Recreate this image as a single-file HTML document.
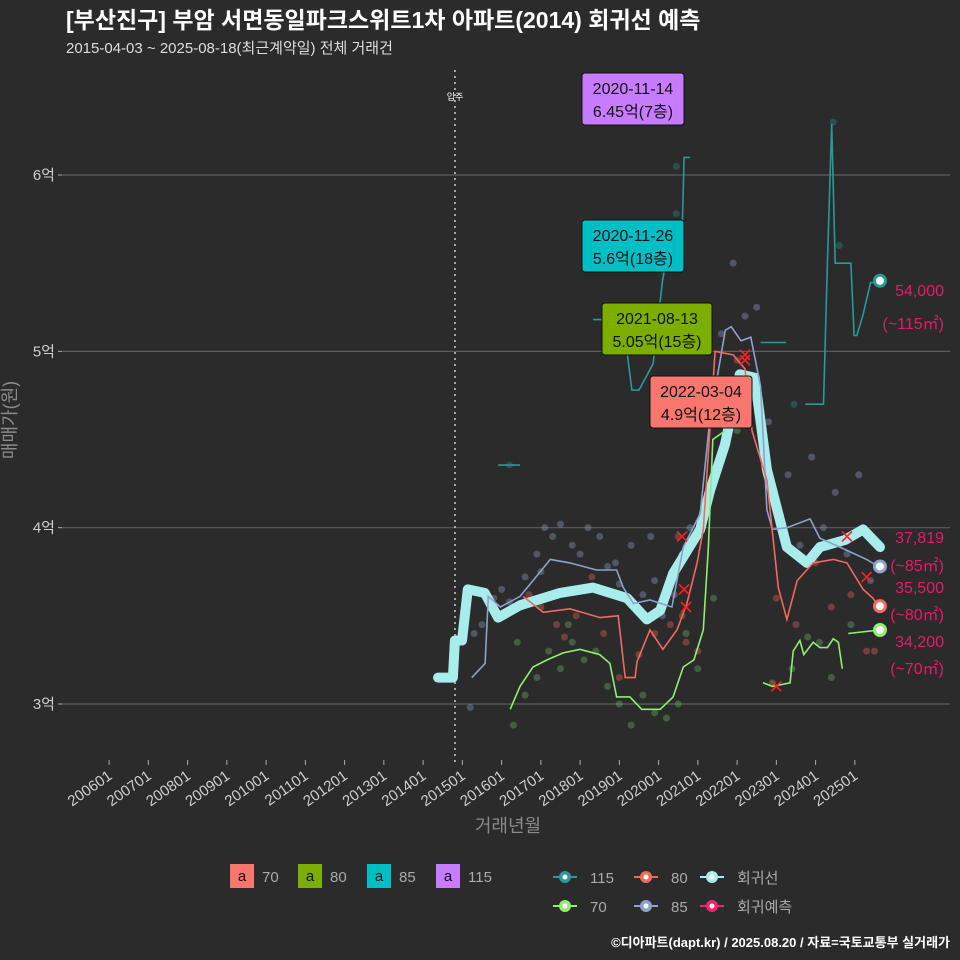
<!DOCTYPE html>
<html><head><meta charset="utf-8"><style>
body{margin:0;background:#2b2b2b;}
svg{display:block;font-family:"Liberation Sans","Noto Sans CJK KR",sans-serif;}
</style></head><body>
<svg id="c" width="960" height="960" xmlns="http://www.w3.org/2000/svg">
<rect width="960" height="960" fill="#2b2b2b"/>
<text x="66" y="28" fill="#ffffff" font-size="23" font-weight="bold">[부산진구] 부암 서면동일파크스위트1차 아파트(2014) 회귀선 예측</text>
<text x="66" y="53" fill="#dddddd" font-size="15">2015-04-03 ~ 2025-08-18(최근계약일) 전체 거래건</text>
<g id="grid"></g><g id="axes"></g><g id="plot"></g><g id="ann"></g><g id="legend"></g>
<text x="16" y="420" fill="#8a8a8a" font-size="18" transform="rotate(-90 16 420)" text-anchor="middle">매매가(원)</text>
<text x="508" y="832" fill="#8a8a8a" font-size="18" text-anchor="middle">거래년월</text>
<text x="950" y="947" fill="#ffffff" font-size="13" font-weight="bold" text-anchor="end">©디아파트(dapt.kr) / 2025.08.20 / 자료=국토교통부 실거래가</text>
</svg>
<script>
const yTicks=[3,4,5,6];
const yTickLabels=["3억","4억","5억","6억"];
const xTickYears=[2006,2007,2008,2009,2010,2011,2012,2013,2014,2015,2016,2017,2018,2019,2020,2021,2022,2023,2024,2025];
const xTickLabels=["200601","200701","200801","200901","201001","201101","201201","201301","201401","201501","201601","201701","201801","201901","202001","202101","202201","202301","202401","202501"];
const regDates=[2014.38,2014.76,2014.81,2014.99,2015.14,2015.57,2015.91,2016.47,2017.49,2018.33,2019.2,2019.7,2020.04,2020.37,2021.06,2021.31,2021.69,2022.07,2022.45,2022.76,2023.27,2023.78,2024.11,2024.75,2025.21,2025.64];
const regVals=[3.15,3.15,3.36,3.36,3.65,3.63,3.49,3.56,3.63,3.66,3.60,3.48,3.53,3.74,3.99,4.21,4.47,4.87,4.85,4.33,3.89,3.80,3.89,3.93,3.99,3.89];
const s80Dates=[2016.55,2017.06,2017.74,2018.51,2018.97,2019.15,2019.4,2019.45,2019.78,2020.11,2020.47,2020.72,2020.98,2021.14,2021.44,2021.9,2022.2,2022.38,2022.76,2023.05,2023.27,2023.53,2023.94,2024.45,2024.8,2025.21,2025.46,2025.6];
const s80Vals=[3.61,3.52,3.54,3.49,3.50,3.15,3.15,3.24,3.42,3.31,3.42,3.57,3.80,3.99,5.0,4.98,4.9,4.55,4.27,3.66,3.48,3.70,3.80,3.82,3.80,3.65,3.60,3.555];
const s85Dates=[2015.24,2015.58,2015.66,2015.97,2016.47,2016.8,2017.24,2017.74,2018.42,2018.93,2019.1,2019.36,2019.78,2020.34,2020.63,2021.06,2021.3,2021.7,2021.85,2022.1,2022.35,2022.6,2022.76,2022.9,2023.27,2023.86,2024.11,2024.62,2025.3,2025.6];
const s85Vals=[3.15,3.23,3.61,3.55,3.61,3.70,3.82,3.80,3.76,3.76,3.66,3.57,3.59,3.55,3.89,4.08,4.6,5.12,5.14,5.06,5.08,4.8,4.10,3.99,4.0,4.05,3.94,3.89,3.82,3.78];
const s70aDates=[2016.22,2016.47,2016.8,2017.16,2017.57,2018.0,2018.5,2018.76,2018.93,2019.27,2019.57,2020.04,2020.37,2020.63,2020.9,2021.14,2021.27,2021.38,2021.7];
const s70aVals=[2.97,3.10,3.21,3.25,3.29,3.31,3.28,3.23,3.04,3.04,2.97,2.97,3.04,3.21,3.25,3.42,3.89,4.5,4.55];
const s70bDates=[2022.66,2022.9,2023.35,2023.43,2023.6,2023.7,2023.94,2024.11,2024.3,2024.45,2024.58,2024.68];
const s70bVals=[3.12,3.10,3.12,3.30,3.36,3.28,3.35,3.32,3.32,3.37,3.35,3.20];
const s70cDates=[2024.83,2025.64];
const s70cVals=[3.40,3.42];
const s115Segs=[
 {d:[2015.91,2016.47],v:[4.355,4.355]},
 {d:[2018.33,2018.8],v:[5.18,5.18]},
 {d:[2019.2,2019.32,2019.5,2019.86,2020.1,2020.32,2020.6,2020.65,2020.8],v:[4.99,4.78,4.78,4.93,5.4,5.67,5.67,6.10,6.10]},
 {d:[2022.6,2023.25],v:[5.05,5.05]},
 {d:[2023.74,2024.2,2024.3,2024.41,2024.5,2024.9,2024.98,2025.05,2025.2,2025.4,2025.64],v:[4.70,4.70,5.50,6.29,5.50,5.50,5.09,5.09,5.2,5.39,5.39]}
];
const dot85D=[2015.2,2015.5,2015.8,2016.2,2016.6,2016.9,2017.1,2017.3,2017.5,2017.8,2018.0,2018.2,2018.5,2018.7,2019.0,2019.3,2019.6,2019.9,2020.1,2020.4,2020.6,2020.8,2021.2,2021.6,2021.9,2022.2,2022.8,2023.0,2023.3,2023.6,2023.9,2024.2,2024.5,2024.8,2025.1,2025.4,2015.3,2016.0,2017.0,2018.9,2019.8,2022.5];
const dot85V=[2.98,3.45,3.6,3.58,3.72,3.85,4.0,3.95,4.02,3.9,3.85,4.0,3.95,3.78,3.68,3.9,3.62,3.7,3.5,3.62,3.85,4.0,4.6,5.1,5.5,5.2,4.6,4.1,4.3,3.9,4.4,4.0,4.2,3.85,4.3,3.7,3.4,3.65,3.75,3.8,3.95,5.25];
const dot80D=[2016.7,2017.0,2017.4,2017.9,2018.3,2018.6,2019.0,2019.5,2019.9,2020.3,2020.6,2020.7,2021.0,2021.5,2022.0,2022.5,2023.0,2023.5,2024.0,2024.4,2024.9,2025.3,2025.5,2017.6,2020.5];
const dot80V=[3.62,3.55,3.45,3.5,3.72,3.4,3.15,3.28,3.4,3.45,3.5,3.35,3.3,4.6,4.95,4.7,3.6,3.45,3.8,3.55,3.62,3.3,3.3,3.38,3.95];
const dot70D=[2016.3,2016.6,2016.9,2017.2,2017.5,2017.8,2018.1,2018.4,2018.7,2019.0,2019.3,2019.6,2019.9,2020.2,2020.5,2020.7,2021.0,2021.4,2022.0,2022.9,2023.4,2023.8,2024.1,2024.4,2024.9,2016.4,2017.7];
const dot70V=[2.88,3.05,3.15,3.3,3.2,3.35,3.25,3.3,3.1,3.0,2.88,3.05,2.95,2.92,3.0,3.4,3.2,3.6,4.55,3.12,3.2,3.38,3.35,3.15,3.45,3.35,3.45];
const dot115D=[2016.2,2020.45,2020.45,2020.45,2024.45,2024.6,2023.45,2020.1];
const dot115V=[4.355,6.45,6.05,5.78,6.3,5.6,4.7,5.0];
const xD=[2020.6,2020.65,2020.7,2022.2,2022.2,2023.0,2024.8,2025.3];
const xV=[3.95,3.65,3.55,4.95,4.98,3.1,3.95,3.72];

const NS="http://www.w3.org/2000/svg";
const X=d=>109.1+(d-2006)*39.25;
const Y=v=>704-(v-3)*176.33;
function mk(parent,tag,attrs){const e=document.createElementNS(NS,tag);for(const k in attrs)e.setAttribute(k,attrs[k]);document.getElementById(parent).appendChild(e);return e;}
function txt(parent,x,y,s,attrs){const e=mk(parent,'text',Object.assign({x:x,y:y},attrs));e.textContent=s;return e;}
function pts(ds,vs){return ds.map((d,i)=>X(d).toFixed(1)+','+Y(vs[i]).toFixed(1)).join(' ');}

yTicks.forEach((t,i)=>{
 let g=mk('grid','line',{x1:62,x2:950,y1:Y(t),y2:Y(t),stroke:'#5c5c5c','stroke-width':1.2});
 
 
 mk('axes','line',{x1:58,x2:62,y1:Y(t),y2:Y(t),stroke:'#aaa'});
 let l=txt('axes',55,Y(t)+5,yTickLabels[i],{fill:'#cfcfcf','font-size':15,'text-anchor':'end'});
 
 
});
xTickYears.forEach((t,i)=>{
 const x=X(t);
 mk('axes','line',{x1:x,x2:x,y1:760,y2:765,stroke:'#aaa'});
 let l=txt('axes',x+4,778,xTickLabels[i],{fill:'#cfcfcf','font-size':15,'text-anchor':'end',transform:'rotate(-35 '+(x+4)+' 778)'});
 
 
});
let vl=mk('plot','line',{x1:455,x2:455,y1:70,y2:762,stroke:'#cccccc','stroke-width':1.5,'stroke-dasharray':'2 4'});


txt('plot',455,100,'입주',{fill:'#fff','font-size':9,'text-anchor':'middle'});

function dots(D,V,col,name){D.forEach((d,i)=>{let c=mk('plot','circle',{cx:X(d),cy:Y(V[i]),r:3.5,fill:col,'fill-opacity':0.4});
 
 });}
dots(dot85D,dot85V,'#8898c0','dot-85');
dots(dot80D,dot80V,'#e06060','dot-80');
dots(dot70D,dot70V,'#66b060','dot-70');
dots(dot115D,dot115V,'#2f8a88','dot-115');

let reg=mk('plot','polyline',{points:pts(regDates,regVals),fill:'none',stroke:'#a8ecec','stroke-width':10,'stroke-linejoin':'round','stroke-linecap':'round'});


function line(D,V,col,name){let p=mk('plot','polyline',{points:pts(D,V),fill:'none',stroke:col,'stroke-width':1.6});
 
 }
line(s85Dates,s85Vals,'#8da2cc','line-85');
line(s80Dates,s80Vals,'#f06a60','line-80');
line(s70aDates,s70aVals,'#90ee70','line-70');
line(s70bDates,s70bVals,'#90ee70','line-70');
line(s70cDates,s70cVals,'#90ee70','line-70');
s115Segs.forEach(s=>line(s.d,s.v,'#2a9a98','line-115'));
xD.forEach((d,i)=>{const x=X(d),y=Y(xV[i]);let p=mk('plot','path',{d:`M${x-5},${y-5}L${x+5},${y+5}M${x+5},${y-5}L${x-5},${y+5}`,stroke:'#ff2020','stroke-width':1.6});
 
 });
[[5.40,'#2a9a98'],[3.78,'#8da2cc'],[3.555,'#f06a60'],[3.42,'#90ee70']].forEach(e=>{let c=mk('plot','circle',{cx:X(2025.64),cy:Y(e[0]),r:5.5,fill:'#fff',stroke:e[1],'stroke-width':3});
 
 });

function box(x,y,w,fill,l1,l2,name){let r=mk('ann','rect',{x:x,y:y,width:w,height:52,rx:3,fill:fill,stroke:'#111','stroke-width':1});
 
 
 txt('ann',x+w/2,y+21,l1,{fill:'#111','font-size':16,'text-anchor':'middle'});
 txt('ann',x+w/2,y+44,l2,{fill:'#111','font-size':16,'text-anchor':'middle'});}
box(582,73,102,'#c77cff','2020-11-14','6.45억(7층)','label-115');
box(582,220,102,'#00bfc4','2020-11-26','5.6억(18층)','label-85');
box(602,303,110,'#7cae00','2021-08-13','5.05억(15층)','label-80');
box(650,376,102,'#f8766d','2022-03-04','4.9억(12층)','label-70');
[['54,000',296],['(~115㎡)',329],['37,819',543],['(~85㎡)',571],['35,500',593],['(~80㎡)',620],['34,200',647],['(~70㎡)',674]].forEach(t=>{let e=txt('ann',944,t[1],t[0],{fill:'#e8196b','font-size':16,'text-anchor':'end'});
 
 });

[['70','#f8766d',230],['80','#7cae00',298],['85','#00bfc4',367],['115','#c77cff',436]].forEach(l=>{
 let r=mk('legend','rect',{x:l[2],y:864,width:24,height:24,fill:l[1]});
 
 
 txt('legend',l[2]+12,881,'a',{fill:'#111','font-size':15,'text-anchor':'middle'});
 txt('legend',l[2]+32,882,l[0],{fill:'#aaa','font-size':15});
});
[['115','#2a9a98',553,877],['80','#f06a60',634,877],['회귀선','#a8ecec',700,877],['70','#90ee70',553,906],['85','#8da2cc',634,906],['회귀예측','#ff1f6b',700,906]].forEach(l=>{
 let g=mk('legend','line',{x1:l[2],x2:l[2]+24,y1:l[3],y2:l[3],stroke:l[1],'stroke-width':2});
 
 
 mk('legend','circle',{cx:l[2]+12,cy:l[3],r:6,fill:l[1]});
 mk('legend','circle',{cx:l[2]+12,cy:l[3],r:2.5,fill:'#fff'});
 txt('legend',l[2]+37,l[3]+6,l[0],{fill:'#aaa','font-size':15});
});
</script>
</body></html>
